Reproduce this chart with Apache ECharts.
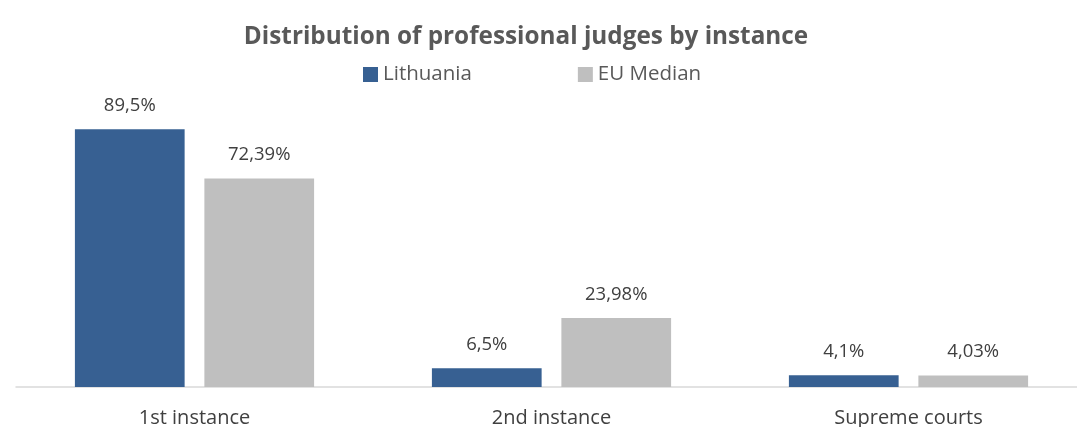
<!DOCTYPE html>
<html><head><meta charset="utf-8">
<script src="https://cdn.jsdelivr.net/npm/echarts@6/dist/echarts.min.js"></script>
<style>html,body{margin:0;padding:0;background:#fff}#c{width:1077px;height:427px}</style>
</head><body><div id="c"></div>
<script>
const categories = ['1st instance', '2nd instance', 'Supreme courts'];
const lithuania = [89.5, 6.5, 4.1];
const euMedian = [72.39, 23.98, 4.03];
const lithuaniaLabels = ['89,5%', '6,5%', '4,1%'];
const euLabels = ['72,39%', '23,98%', '4,03%'];

const chart = echarts.init(document.getElementById('c'));
const font = 'Open Sans';
chart.setOption({
  animation: false,
  textStyle: { fontFamily: font },
  title: {
    text: 'Distribution of professional judges by instance',
    left: 527, textAlign: 'center', top: 20,
    textStyle: { fontFamily: font, fontSize: 24.3, fontWeight: 'bold', color: '#595959' }
  },
  legend: {
    top: 59, left: 358, itemGap: 106,
    itemWidth: 15, itemHeight: 15, icon: 'rect',
    textStyle: { fontFamily: font, fontSize: 20.5, color: '#595959', padding: [0, 0, 0, 0] },
    data: ['Lithuania', 'EU Median']
  },
  grid: { left: 16, width: 1071, top: 99, bottom: 40, outerBoundsMode: 'none', containLabel: false },
  xAxis: {
    type: 'category', data: categories,
    axisLine: { lineStyle: { color: '#d9d9d9', width: 1.5 } },
    axisTick: { show: false },
    axisLabel: { fontFamily: font, fontSize: 20, color: '#404040', margin: 21 }
  },
  yAxis: { type: 'value', min: 0, max: 100, show: false, splitLine: { show: false } },
  series: [
    {
      name: 'Lithuania', type: 'bar', data: lithuania,
      itemStyle: { color: '#376092' },
      barGap: '18%', barCategoryGap: '33%',
      label: { show: true, position: 'top', distance: 14, fontFamily: font, fontSize: 18.5, color: '#404040',
        formatter: p => lithuaniaLabels[p.dataIndex] }
    },
    {
      name: 'EU Median', type: 'bar', data: euMedian,
      itemStyle: { color: '#bfbfbf' },
      label: { show: true, position: 'top', distance: 14, fontFamily: font, fontSize: 18.5, color: '#404040',
        formatter: p => euLabels[p.dataIndex] }
    }
  ]
});
chart.setOption({ title: { left: 521 } });
</script></body></html>
